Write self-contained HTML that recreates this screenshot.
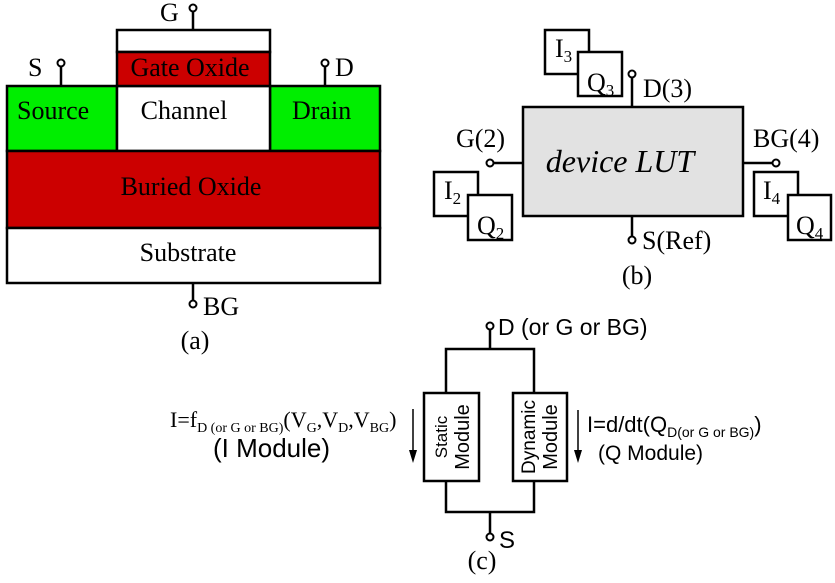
<!DOCTYPE html>
<html><head><meta charset="utf-8"><style>body{margin:0;background:#fff}</style></head><body>
<svg width="835" height="578" viewBox="0 0 835 578" xmlns="http://www.w3.org/2000/svg" font-family="Liberation Serif, serif">
<g stroke="#000" stroke-width="2.5">
<rect x="7" y="86" width="110" height="65" fill="#00ee00"/>
<rect x="270" y="86" width="110" height="65" fill="#00ee00"/>
<rect x="117" y="86" width="153" height="65" fill="#fff"/>
<rect x="117" y="30" width="153" height="22" fill="#fff"/>
<rect x="117" y="52" width="153" height="34" fill="#cc0000"/>
<rect x="7" y="151" width="373" height="77" fill="#cc0000"/>
<rect x="7" y="228" width="373" height="55" fill="#fff"/>
<line x1="193" y1="30" x2="193" y2="12"/><line x1="61" y1="86" x2="61" y2="67"/><line x1="325" y1="86" x2="325" y2="67"/><line x1="193" y1="283" x2="193" y2="300"/>
</g>
<g stroke="#000" stroke-width="2" fill="#fff">
<circle cx="193" cy="8" r="3.5"/><circle cx="61" cy="63" r="3.5"/><circle cx="325" cy="63" r="3.5"/><circle cx="193" cy="304" r="3.5"/>
</g>
<g font-size="26" fill="#000">
<text x="160" y="21">G</text><text x="28" y="76">S</text><text x="335" y="76">D</text>
<text x="17" y="119">Source</text><text x="184" y="119" text-anchor="middle">Channel</text><text x="292" y="119">Drain</text>
<text x="190" y="76" text-anchor="middle">Gate Oxide</text>
<text x="191" y="195" text-anchor="middle">Buried Oxide</text>
<text x="188" y="261" text-anchor="middle">Substrate</text>
<text x="203" y="315">BG</text>
<text x="195" y="349" text-anchor="middle">(a)</text>
</g>
<!-- (b) -->
<g stroke="#000" stroke-width="2.5">
<rect x="523" y="107" width="220" height="109" fill="#e2e2e2"/>
<line x1="632" y1="107" x2="632" y2="78"/><line x1="523" y1="163" x2="494" y2="163"/><line x1="743" y1="163" x2="772" y2="163"/><line x1="632" y1="216" x2="632" y2="236"/>
<g fill="#fff">
<rect x="545" y="30" width="44" height="44"/><rect x="578" y="52" width="44" height="44"/>
<rect x="434" y="172" width="44" height="44"/><rect x="468" y="195" width="44" height="45"/>
<rect x="754" y="172" width="44" height="44"/><rect x="788" y="195" width="43" height="45"/>
</g></g>
<g stroke="#000" stroke-width="2" fill="#fff">
<circle cx="632" cy="74" r="3.5"/><circle cx="490" cy="163" r="3.5"/><circle cx="776" cy="163" r="3.5"/><circle cx="632" cy="240" r="3.5"/>
</g>
<g font-size="26" fill="#000">
<text x="620" y="172" text-anchor="middle" font-style="italic" font-size="32">device LUT</text>
<text x="643" y="97">D(3)</text><text x="456" y="147">G(2)</text><text x="753" y="147">BG(4)</text><text x="642" y="249">S(Ref)</text>
<text x="637" y="284" text-anchor="middle">(b)</text>
<text x="555" y="57">I<tspan font-size="17" dy="5">3</tspan></text>
<text x="587" y="91">Q<tspan font-size="17" dy="5">3</tspan></text>
<text x="444" y="199">I<tspan font-size="17" dy="5">2</tspan></text>
<text x="477" y="234">Q<tspan font-size="17" dy="5">2</tspan></text>
<text x="763" y="199">I<tspan font-size="17" dy="5">4</tspan></text>
<text x="796" y="234">Q<tspan font-size="17" dy="5">4</tspan></text>
</g>
<!-- (c) -->
<g stroke="#000" stroke-width="2.5" fill="none">
<path d="M490 330 V349 M446 393 V349 H534 V393 M446 481 V512 H534 V481 M490 512 V533"/>
<rect x="424" y="393" width="55" height="88" fill="#fff"/><rect x="513" y="393" width="54" height="88" fill="#fff"/>
<line x1="413" y1="409" x2="413" y2="452" stroke-width="1.5"/><line x1="578" y1="410" x2="578" y2="452" stroke-width="1.5"/>
</g>
<path d="M409 450 L417 450 L413 463 Z M574 450 L582 450 L578 463 Z" fill="#000"/>
<g stroke="#000" stroke-width="2" fill="#fff"><circle cx="490" cy="326" r="3.5"/><circle cx="490" cy="537" r="3.5"/></g>
<g font-family="Liberation Sans, sans-serif" fill="#000">
<text x="498" y="335" font-size="23">D (or G or BG)</text>
<text x="499" y="548" font-size="24">S</text>
<text transform="translate(447,437) rotate(-90)" text-anchor="middle" font-size="17">Static</text>
<text transform="translate(469,437) rotate(-90)" text-anchor="middle" font-size="20">Module</text>
<text transform="translate(535,437) rotate(-90)" text-anchor="middle" font-size="19">Dynamic</text>
<text transform="translate(557,437) rotate(-90)" text-anchor="middle" font-size="20">Module</text>
<text x="587" y="432" font-size="22">I=d/dt(Q<tspan font-size="14" dy="5">D(or G or BG)</tspan><tspan dy="-5">)</tspan></text>
<text x="598" y="460" font-size="21">(Q Module)</text>
<text x="213" y="457" font-size="26">(I Module)</text>
</g>
<text x="170" y="427" font-size="22" fill="#000">I=f<tspan font-size="14" dy="5">D (or G or BG)</tspan><tspan dy="-5">(V</tspan><tspan font-size="14" dy="5">G</tspan><tspan dy="-5">,V</tspan><tspan font-size="14" dy="5">D</tspan><tspan dy="-5">,V</tspan><tspan font-size="14" dy="5">BG</tspan><tspan dy="-5">)</tspan></text>
<text x="482" y="569" font-size="26" text-anchor="middle" fill="#000">(c)</text>
</svg>
</body></html>
